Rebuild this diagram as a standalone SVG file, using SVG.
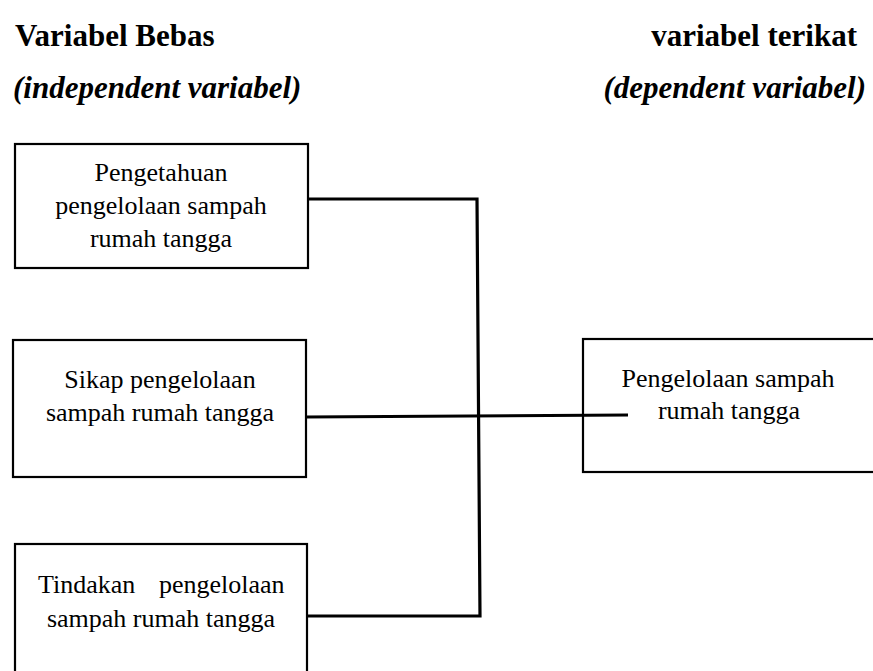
<svg xmlns="http://www.w3.org/2000/svg" width="873" height="671" viewBox="0 0 873 671">
<style>
.box{fill:none;stroke:#000;stroke-width:2.2}
.t{font-family:'Liberation Serif','DejaVu Serif',serif;font-size:26px;fill:#000;text-anchor:middle}
.h{font-family:'Liberation Serif','DejaVu Serif',serif;font-size:31px;font-weight:bold;fill:#000}
.hi{font-style:italic}
.c{fill:none;stroke:#000;stroke-width:3.2;stroke-linejoin:miter}
</style>
<rect width="873" height="671" fill="#fff"/>
<g id="headings">
<text class="h" x="15" y="46">Variabel Bebas</text>
<text class="h hi" x="13" y="98">(independent variabel)</text>
<text class="h" x="857" y="46" text-anchor="end">variabel terikat</text>
<text class="h hi" x="866" y="98" text-anchor="end">(dependent variabel)</text>
</g>
<g id="node-pengetahuan">
<rect class="box" x="15" y="144" width="293" height="124"/>
<text class="t" x="161" y="181">Pengetahuan</text>
<text class="t" x="161" y="214">pengelolaan sampah</text>
<text class="t" x="161" y="247">rumah tangga</text>
</g>
<g id="node-sikap">
<rect class="box" x="13" y="340" width="293" height="137"/>
<text class="t" x="160" y="388">Sikap pengelolaan</text>
<text class="t" x="160" y="421">sampah rumah tangga</text>
</g>
<g id="node-tindakan">
<rect class="box" x="15" y="544" width="292" height="140"/>
<text class="t" style="text-anchor:start"><tspan x="38" y="593">Tindakan</tspan><tspan x="159" y="593">pengelolaan</tspan></text>
<text class="t" x="161" y="627">sampah rumah tangga</text>
</g>
<g id="node-pengelolaan">
<rect class="box" x="583" y="339" width="300" height="133"/>
<text class="t" x="728" y="387">Pengelolaan sampah</text>
<text class="t" x="729" y="419">rumah tangga</text>
</g>
<g id="connectors">
<path class="c" d="M308,199 L477,199 L480,616 L308,616"/>
<path class="c" d="M306,417 L628,415"/>
</g>
</svg>
